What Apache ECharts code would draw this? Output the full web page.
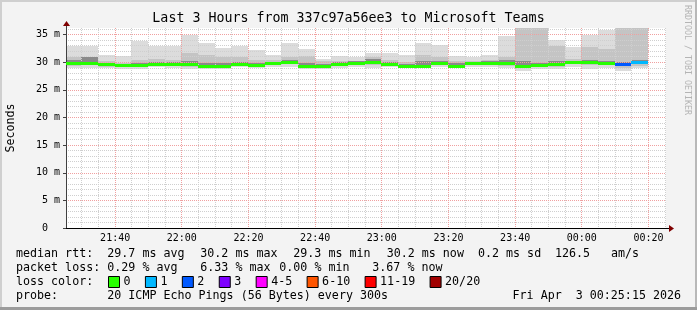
<!DOCTYPE html>
<html><head><meta charset="utf-8">
<script src="https://cdn.jsdelivr.net/npm/echarts@6/dist/echarts.min.js"></script>
<style>html,body{margin:0;padding:0;background:#f3f3f3}#c{width:697px;height:310px}</style>
</head><body><div id="c"></div><script>
// ---------- DATA ----------
const startTime = "21:25:15";
const endTime = "00:25:15";
const stepMinutes = 5; // 300 s
const binEnds = ["21:30","21:35","21:40","21:45","21:50","21:55","22:00","22:05","22:10","22:15",
  "22:20","22:25","22:30","22:35","22:40","22:45","22:50","22:55","23:00","23:05",
  "23:10","23:15","23:20","23:25","23:30","23:35","23:40","23:45","23:50","23:55",
  "00:00","00:05","00:10","00:15","00:20"];
const medianRtt = [29.95,29.95,29.6,29.45,29.45,29.75,29.75,29.7,29.3,29.35,
  29.7,29.55,29.85,30.05,29.35,29.35,29.7,29.9,30.05,29.75,
  29.35,29.35,29.9,29.4,29.9,29.9,29.9,29.3,29.45,29.7,
  30.0,30.05,29.95,29.7,30.05];
const lossClass = ["0","0","0","0","0","0","0","0","0","0",
  "0","0","0","0","0","0","0","0","0","0",
  "0","0","0","0","0","0","0","0","0","0",
  "0","0","0","2","1"];
const smokeMin = [28.95,28.95,28.95,28.8,28.8,29.1,28.95,28.8,28.7,28.8,
  29.1,28.95,29.1,29.1,28.8,28.8,28.95,29.1,28.95,29.1,
  28.95,28.95,29.1,28.9,29.1,29.1,28.95,28.5,28.8,28.8,
  29.1,28.8,28.95,28.5,28.95];
const smokeMax = [32.9,32.9,31.4,31.05,33.8,33.0,33.0,35.0,33.4,32.6,
  32.9,32.15,31.4,33.5,32.45,30.5,31.1,31.0,31.7,31.6,
  31.25,33.4,33.2,31.05,30.95,31.4,34.7,37.0,37.0,34.1,
  32.75,35.0,35.8,37.0,37.0];
const band2Lo = [29.4,29.5,29.2,29.1,29.1,29.4,29.3,29.2,29.0,29.1,
  29.4,29.2,29.5,29.6,29.1,29.1,29.4,29.5,29.5,29.4,
  29.1,29.1,29.5,29.1,29.5,29.5,29.4,28.9,29.1,29.2,
  29.6,29.5,29.5,28.9,29.4];
const band2Hi = [31.0,31.0,30.2,29.9,30.35,30.65,30.4,31.7,31.35,31.0,
  30.95,30.45,30.35,30.95,31.1,30.2,30.2,30.3,30.9,30.4,
  30.1,31.35,30.95,30.3,30.3,30.45,30.95,36.5,36.5,32.9,
  30.6,32.75,32.45,36.5,36.5];
const band3Lo = [29.7,29.7,29.4,29.3,29.1,29.6,29.5,29.3,29.1,29.2,
  29.55,29.4,29.7,29.85,29.2,29.2,29.5,29.7,29.85,29.55,
  29.2,29.2,29.5,29.2,29.7,29.7,29.6,29.0,29.3,29.3,
  29.8,29.8,29.7,29.3,29.6];
const band3Hi = [30.4,30.9,29.9,29.7,29.8,30.1,30.0,30.2,29.8,29.8,
  30.0,29.9,30.1,30.35,29.8,29.6,30.0,30.15,30.6,30.1,
  29.7,30.2,30.2,29.9,30.1,30.3,30.4,30.3,29.8,30.2,
  30.3,30.35,30.25,30.0,30.4];
const xTickLabels = ["21:40","22:00","22:20","22:40","23:00","23:20","23:40","00:00","00:20"];
const yTickValues = [0,5,10,15,20,25,30,35];
const yMax = 36.2;
const lossClasses = ["0","1","2","3","4-5","6-10","11-19","20/20"];
const titleText = "Last 3 Hours from 337c97a56ee3 to Microsoft Teams";
const rttStats = ["median rtt:","29.7 ms avg","30.2 ms max","29.3 ms min","30.2 ms now","0.2 ms sd","126.5","am/s"];
const lossStats = ["packet loss:","0.29 % avg","6.33 % max","0.00 % min","3.67 % now"];
const probeText = ["probe:","20 ICMP Echo Pings (56 Bytes) every 300s"];
const dateText = "Fri Apr  3 00:25:15 2026";

// ---------- STYLE / LAYOUT ----------
const lossColors = ["#26ff00","#00b8ff","#0059ff","#7e00ff","#ff00ff","#ff5500","#ff0000","#a10000"];
const MINOR_C = '#cfcfcf', MAJOR_C = '#f0a0a0';
const MONO = "'DejaVu Sans Mono', monospace";
const G = {left: 66, top: 28, width: 600, height: 200};
const rttX = [16,107.3,200.3,293.3,386.7,478,555,611];
const lossX = [16,107.3,200.3,279.3,372.3];
const lineY = [254,268,282,296];
const FS = 11.66;

function toMin(s){
  const p = s.split(":").map(Number);
  let m = p[0]*60 + p[1] + (p[2]||0)/60;
  if (p[0] < 12) m += 1440;
  return m;
}
const xMin = toMin(startTime), xMax = toMin(endTime);
const majorTicks = xTickLabels.map(toMin);
const vGrid = []; // [minute, isMajor]
for (let m = Math.ceil(xMin/stepMinutes)*stepMinutes; m <= xMax; m += stepMinutes)
  vGrid.push([m, majorTicks.indexOf(m) >= 0 ? 1 : 0]);

const smokeData = binEnds.map((e,i)=>{
  const t1 = toMin(e);
  return [t1-stepMinutes, t1, smokeMin[i], smokeMax[i], band2Lo[i], band2Hi[i], band3Lo[i], band3Hi[i]];
});

function clipRect(api, params, t0, t1, lo, hi){
  const cs = params.coordSys;
  const a = api.coord([t0, hi]), b = api.coord([t1, lo]);
  let x0 = Math.floor(a[0]), x1 = Math.floor(b[0]);
  let y0 = Math.round(a[1]), y1 = Math.round(b[1]);
  x0 = Math.max(x0, cs.x); x1 = Math.min(x1, cs.x + cs.width);
  y0 = Math.max(y0, cs.y); y1 = Math.min(y1, cs.y + cs.height);
  return {x:x0, y:y0, width:Math.max(0,x1-x0), height:Math.max(0,y1-y0)};
}

const series = [{
  type:'custom', name:'smoke', z:2, silent:true,
  data: smokeData,
  renderItem: function(params, api){
    const t0=api.value(0), t1=api.value(1);
    return {type:'group', children:[
      {type:'rect', shape: clipRect(api,params,t0,t1,api.value(2),api.value(3)), style:{fill:'#dcdcdc'}},
      {type:'rect', shape: clipRect(api,params,t0,t1,api.value(4),api.value(5)), style:{fill:'#c4c4c4'}},
      {type:'rect', shape: clipRect(api,params,t0,t1,api.value(6),api.value(7)), style:{fill:'#8a8a8a'}}
    ]};
  }
}, {
  type:'custom', name:'vgrid', z:3, silent:true,
  data: vGrid,
  renderItem: function(params, api){
    const cs = params.coordSys;
    const x = Math.floor(api.coord([api.value(0), 0])[0]) + 0.5;
    return {type:'line', shape:{x1:x, y1:cs.y, x2:x, y2:cs.y+cs.height},
      style:{stroke: api.value(1) ? MAJOR_C : MINOR_C, lineWidth:1, lineDash:[1,1]}};
  }
}];
lossClasses.forEach((cls, k)=>{
  const data = [];
  binEnds.forEach((e,i)=>{ if (lossClass[i]===cls){ const t1=toMin(e); data.push([t1-stepMinutes, t1, medianRtt[i]]); } });
  series.push({
    type:'custom', name: cls, z: 5, silent:true,
    itemStyle:{color: lossColors[k]},
    data: data,
    renderItem: function(params, api){
      const cs = params.coordSys;
      const a = api.coord([api.value(0), api.value(2)]), b = api.coord([api.value(1), api.value(2)]);
      const x0 = Math.max(Math.floor(a[0]), cs.x), x1 = Math.floor(b[0]);
      const yc = Math.round(a[1]);
      return {type:'rect', shape:{x:x0, y:yc-1, width:x1-x0, height:3}, style:{fill: lossColors[k]}};
    }
  });
});

const graphic = [];
// frame
graphic.push({type:'rect', shape:{x:0,y:0,width:697,height:2}, style:{fill:'#cfcfcf'}, silent:true});
graphic.push({type:'rect', shape:{x:0,y:0,width:2,height:310}, style:{fill:'#cfcfcf'}, silent:true});
graphic.push({type:'rect', shape:{x:695,y:0,width:2,height:310}, style:{fill:'#b8b8b8'}, silent:true});
graphic.push({type:'rect', shape:{x:0,y:307,width:697,height:3}, style:{fill:'#9c9c9c'}, silent:true});
// axis arrows
const gx1 = G.left + G.width, gy1 = G.top + G.height;
graphic.push({type:'line', shape:{x1:gx1, y1:gy1+0.5, x2:gx1+4, y2:gy1+0.5}, style:{stroke:'#000', lineWidth:1}, silent:true});
graphic.push({type:'polygon', shape:{points:[[gx1+3,gy1-3],[gx1+8,gy1+0.5],[gx1+3,gy1+4]]}, style:{fill:'#7f0000'}, silent:true});
graphic.push({type:'line', shape:{x1:G.left+0.5, y1:G.top, x2:G.left+0.5, y2:G.top-3}, style:{stroke:'#404040', lineWidth:1}, silent:true});
graphic.push({type:'polygon', shape:{points:[[G.left-3,G.top-2],[G.left+0.5,G.top-7],[G.left+4,G.top-2]]}, style:{fill:'#7f0000'}, silent:true});
// watermark
graphic.push({type:'text', x:687, y:5, rotation:-Math.PI/2, silent:true,
  style:{text:'RRDTOOL / TOBI OETIKER', fill:'#b4b4b4', font:"8.3px "+MONO, textAlign:'left', textVerticalAlign:'middle'}});
// stats text
function txt(x,y,s,align){ graphic.push({type:'text', x:x, y:y, silent:true,
  style:{text:s, fill:'#000', font:FS+"px "+MONO, textAlign:align||'left', textVerticalAlign:'middle'}}); }
rttStats.forEach((s,i)=>txt(rttX[i], lineY[0], s));
lossStats.forEach((s,i)=>txt(lossX[i], lineY[1], s));
txt(16, lineY[2], "loss color:");
txt(16, lineY[3], probeText[0]);
txt(107.3, lineY[3], probeText[1]);
txt(681, lineY[3], dateText, 'right');

const gridLine = (c)=>({show:true, lineStyle:{color:c, type:[1,1], width:1}});

const option = {
  animation:false,
  backgroundColor:'#f3f3f3',
  title:{text:titleText, left:'center', top:12, padding:0,
    textStyle:{fontFamily:MONO, fontSize:13.3, fontWeight:'normal', color:'#000'}},
  legend:{data:lossClasses, left:108, top:276, padding:0, orient:'horizontal',
    icon:'rect', itemWidth:11, itemHeight:11, itemGap:14.4, selectedMode:false,
    itemStyle:{borderColor:'#000', borderWidth:1},
    textStyle:{fontFamily:MONO, fontSize:FS, color:'#000', padding:[0,0,0,-1]}},
  grid:{left:G.left, top:G.top, width:G.width, height:G.height, show:true, backgroundColor:'#ffffff',
    borderWidth:0, containLabel:false, outerBoundsMode:'none'},
  xAxis:[
    {type:'value', min:xMin, max:xMax, position:'bottom', z:4,
     axisLine:{show:true, lineStyle:{color:'#000', width:1}},
     axisTick:{show:false, customValues:majorTicks},
     axisLabel:{show:true, customValues:majorTicks, margin:5, fontFamily:MONO, fontSize:10, color:'#000',
       formatter:(v)=>{ const i = majorTicks.findIndex(m=>Math.abs(m-v)<0.01); return i>=0 ? xTickLabels[i] : ''; }},
     splitLine:{show:false}}
  ],
  yAxis:[
    {type:'value', min:0, max:yMax, interval:1, position:'left', z:3,
     axisLine:{show:false}, axisLabel:{show:false}, axisTick:{show:false},
     splitLine:Object.assign(gridLine(MINOR_C), {showMinLine:false, showMaxLine:false})},
    {type:'value', min:0, max:yMax, interval:5, position:'left', z:4,
     name:'Seconds', nameLocation:'middle', nameGap:49, nameRotate:90,
     nameTextStyle:{fontFamily:MONO, fontSize:FS, color:'#000'},
     axisLine:{show:true, onZero:false, lineStyle:{color:'#404040', width:1}},
     axisTick:{show:true, length:3, lineStyle:{color:'#404040'}},
     axisLabel:{show:true, margin:6, fontFamily:MONO, fontSize:10, color:'#000', showMaxLabel:false,
       formatter:(v)=> v===0 ? '0  ' : (yTickValues.indexOf(v)>=0 ? v+' m' : '')},
     splitLine:Object.assign(gridLine(MAJOR_C), {showMinLine:false, showMaxLine:false})}
  ],
  series: series.map(s=>Object.assign(s,{xAxisIndex:0, yAxisIndex:0})),
  graphic: graphic
};
const chart = echarts.init(document.getElementById('c'), null, {renderer:'canvas'});
chart.setOption(option);
</script></body></html>
